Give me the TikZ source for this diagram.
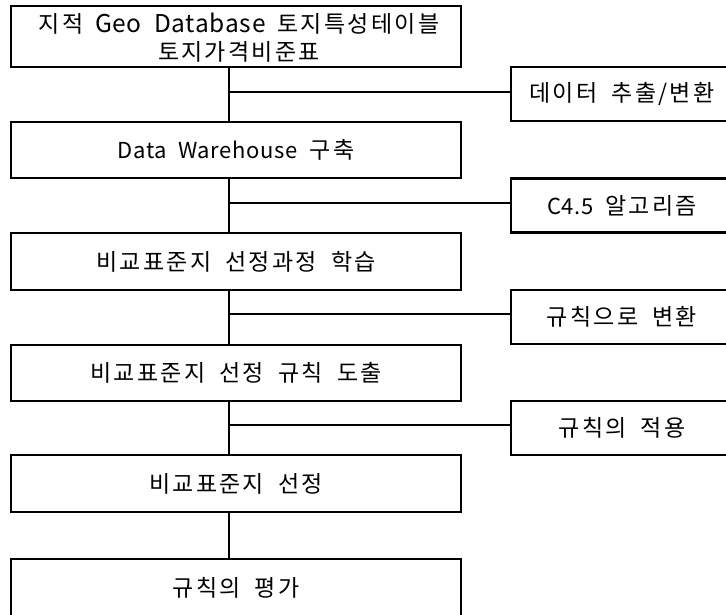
\documentclass[tikz,border=0pt]{standalone}
\usepackage{fontspec}
\setmainfont{Noto Sans CJK KR}[LetterSpace=3, WordSpace=2.0]
\newfontfamily\kr{Noto Sans CJK KR}[LetterSpace=10, WordSpace=1.9]
\begin{document}
\begin{tikzpicture}[x=1pt,y=-1pt,
  txt/.style={align=center, inner sep=0pt, font=\fontsize{23}{26.5}\selectfont},
  lbox/.style={draw, line width=2.5pt, minimum width=450pt, inner sep=0pt, txt},
  rbox/.style={draw, line width=2.5pt, minimum width=222pt, minimum height=54pt, inner sep=0pt, txt},
  conn/.style={line width=2.6pt}]
\useasboundingbox (0,0) rectangle (726,614);
\clip (0,0) rectangle (726,614);
\node[lbox, minimum height=61pt] (b1) at (236,36.5) {};
\node[txt] (b1t) at ([xshift=3pt,yshift=-1pt]b1.center) {{\kr 지적} {\fontsize{24.5}{26}\selectfont Geo Database} {\kr 토지특성테이블}\\[2pt]{\kr 토지가격비준표}};
\node[lbox, minimum height=56pt] (b2) at (236,150) {{\fontsize{22}{26}\selectfont Data Warehouse} {\kr 구축}};
\node[lbox, minimum height=57pt] (b3) at (236,261.5) {\kr 비교표준지 선정과정 학습};
\node[lbox, minimum height=56pt] (b4) at (236,373) {\kr 비교표준지 선정 규칙 도출};
\node[lbox, minimum height=57pt] (b5) at (236,483.5) {\kr 비교표준지 선정};
\node[lbox, minimum height=57pt] (b6) at (236,587.5) {\kr 규칙의 평가};
\node[rbox] (rA) at (622,94) {\kr 데이터 추출/변환};
\node[rbox] (rB) at (622,205.5) {{\fontsize{22}{26}\selectfont C4.5} {\kr 알고리즘}};
\node[rbox] (rC) at (622,317) {\kr 규칙으로 변환};
\node[rbox] (rD) at (622,428) {\kr 규칙의 적용};
\coordinate (vx) at (229,0);
\coordinate (j1) at (229,92);
\coordinate (j2) at (229,203);
\coordinate (j3) at (229,314);
\coordinate (j4) at (229,425);
\draw[conn] (b1.south -| vx) -- (b2.north -| vx);
\draw[conn] (b2.south -| vx) -- (b3.north -| vx);
\draw[conn] (b3.south -| vx) -- (b4.north -| vx);
\draw[conn] (b4.south -| vx) -- (b5.north -| vx);
\draw[conn] (b5.south -| vx) -- (b6.north -| vx);
\draw[conn] (j1) -- (j1 -| rA.west);
\draw[conn] (j2) -- (j2 -| rB.west);
\draw[conn] (j3) -- (j3 -| rC.west);
\draw[conn] (j4) -- (j4 -| rD.west);
\end{tikzpicture}
\end{document}
